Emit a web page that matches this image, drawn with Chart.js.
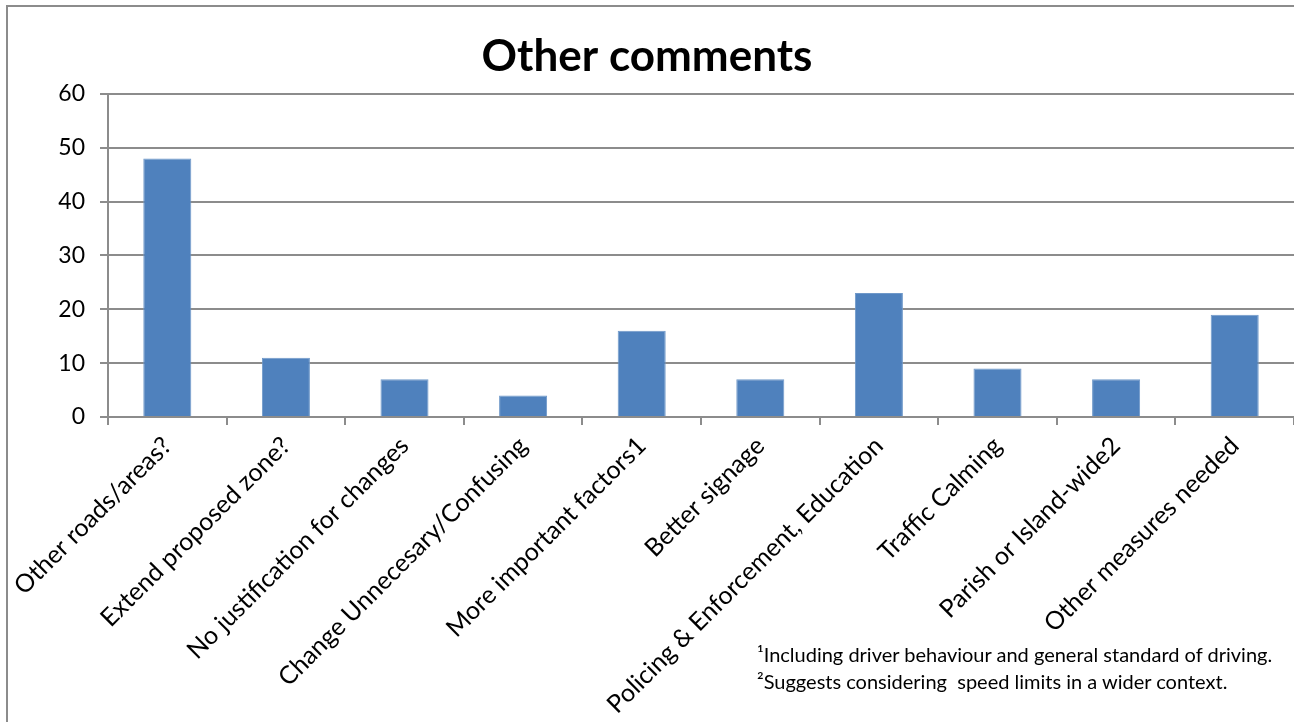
<!DOCTYPE html>
<html>
<head>
<meta charset="utf-8">
<title>Other comments</title>
<script src="https://cdn.jsdelivr.net/npm/chart.js@4.4.1/dist/chart.umd.min.js"></script>
<style>
  html, body { margin: 0; padding: 0; background: #fff; overflow: hidden; }
  #wrap { position: absolute; left: 0; top: 0; width: 1294px; height: 722px; }
  #notes {
    position: absolute; left: 757px; top: 641px;
    font-family: Lato, "Noto Sans", sans-serif; font-size: 20px;
    line-height: 27px; color: #000; white-space: nowrap;
  }
</style>
</head>
<body>
<div id="wrap"><canvas id="chart"></canvas></div>
<div id="notes">
  <div>¹Including driver behaviour and general standard of driving.</div>
  <div>²Suggests considering&nbsp; speed limits in a wider context.</div>
</div>

<script>
// categories and values
const categories = [
  "Other roads/areas?",
  "Extend proposed zone?",
  "No justification for changes",
  "Change Unnecesary/Confusing",
  "More important factors1",
  "Better signage",
  "Policing & Enforcement, Education",
  "Traffic Calming",
  "Parish or Island-wide2",
  "Other measures needed"
];
const counts = [48, 11, 7, 4, 16, 7, 23, 9, 7, 19];
const yTicks = [0, 10, 20, 30, 40, 50, 60];

const FONT = "Lato, 'Noto Sans', sans-serif";
const GRID = "#8c8c8c";

// outer chart frame (only the left and top edges are inside the picture)
const framePlugin = {
  id: "frame",
  beforeDraw(chart) {
    const ctx = chart.ctx;
    ctx.save();
    ctx.strokeStyle = GRID;
    ctx.lineWidth = 2;
    ctx.beginPath();
    ctx.moveTo(7, chart.height);
    ctx.lineTo(7, 6);
    ctx.lineTo(chart.width, 6);
    ctx.stroke();
    ctx.restore();
  }
};

new Chart(document.getElementById("chart"), {
  type: "bar",
  data: {
    labels: categories,
    datasets: [{
      label: "Other comments",
      data: counts,
      backgroundColor: "#4F81BD",
      borderColor: "#6f98c9",
      borderWidth: 1,
      barPercentage: 1,
      categoryPercentage: 0.405
    }]
  },
  plugins: [framePlugin],
  options: {
    responsive: true,
    maintainAspectRatio: false,
    animation: false,
    layout: { padding: { top: 0, right: 0, bottom: 0, left: 0 } },
    plugins: {
      legend: { display: false },
      tooltip: { enabled: false },
      title: {
        display: true,
        text: "Other comments",
        color: "#000",
        font: { family: FONT, size: 44, weight: "bold", lineHeight: 1.2 },
        padding: { top: 30, bottom: 11 }
      }
    },
    scales: {
      x: {
        grid: {
          offset: true,
          drawOnChartArea: false,
          color: GRID,
          lineWidth: 2,
          tickLength: 8
        },
        border: { color: GRID, width: 2 },
        ticks: {
          color: "#000",
          font: { family: FONT, size: 25 },
          minRotation: 45,
          maxRotation: 45,
          autoSkip: false,
          padding: 6
        },
        afterFit(scale) {
          scale.height = 305;
          scale.paddingLeft = 0;
          scale.paddingRight = 0;
        }
      },
      y: {
        min: 0,
        max: 60,
        afterBuildTicks(scale) {
          scale.ticks = yTicks.map(v => ({ value: v }));
        },
        grid: {
          color: GRID,
          lineWidth: 2,
          tickLength: 8
        },
        border: { color: GRID, width: 2 },
        ticks: {
          color: "#000",
          font: { family: FONT, size: 23 },
          padding: 15
        },
        afterFit(scale) {
          scale.width = 108;
        }
      }
    }
  }
});
</script>
</body>
</html>
